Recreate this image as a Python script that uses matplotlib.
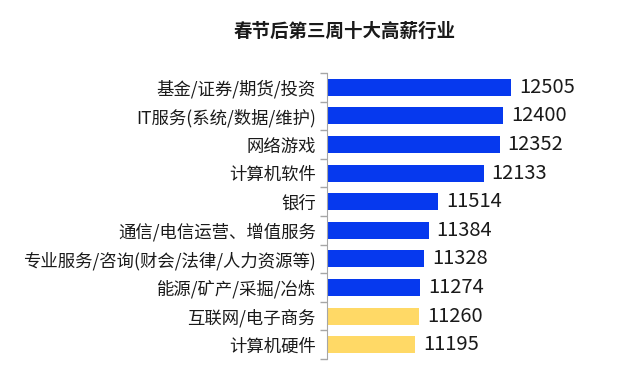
import matplotlib
matplotlib.use("Agg")
import matplotlib.pyplot as plt
import numpy as np

plt.rcParams['font.family'] = ['Noto Sans CJK SC', 'DejaVu Sans']

# data (top to bottom)
industries = ['基金/证券/期货/投资', 'IT服务(系统/数据/维护)', '网络游戏', '计算机软件', '银行',
              '通信/电信运营、增值服务', '专业服务/咨询(财会/法律/人力资源等)', '能源/矿产/采掘/冶炼',
              '互联网/电子商务', '计算机硬件']
salaries = [12505, 12400, 12352, 12133, 11514, 11384, 11328, 11274, 11260, 11195]
bar_colors = ['#0639ee'] * 8 + ['#ffd966'] * 2

fig = plt.figure(figsize=(6.41, 3.91), dpi=100)
ax = fig.add_axes([327 / 641, 1 - 359 / 391, (600 - 327) / 641, (359 - 73) / 391])

y = np.arange(len(industries))
x0 = 10000
ax.barh(y, np.array(salaries) - x0, left=x0, height=0.6, color=bar_colors)
ax.set_xlim(x0, 13720)
ax.set_ylim(len(industries) - 0.5, -0.5)

for yi, v in zip(y, salaries):
    ax.text(v + 110, yi, str(v), va='center', ha='left', fontsize=14.5, color='#1a1a1a')

ax.set_yticks(y)
ax.set_yticklabels(industries, fontsize=12.5, color='#1a1a1a')
ax.tick_params(axis='y', length=0, pad=8)
ax.set_yticks(np.arange(-0.5, len(industries)), minor=True)
ax.tick_params(axis='y', which='minor', length=5, color='#a6a6a6', width=1)
ax.set_xticks([])
for s in ['top', 'right', 'bottom']:
    ax.spines[s].set_visible(False)
ax.spines['left'].set_color('#a6a6a6')

fig.text(345 / 641, 1 - 31 / 391, '春节后第三周十大高薪行业', ha='center', va='center',
         fontsize=13.3, fontweight='bold', color='#1a1a1a')

fig.savefig('out.png', dpi=100)
